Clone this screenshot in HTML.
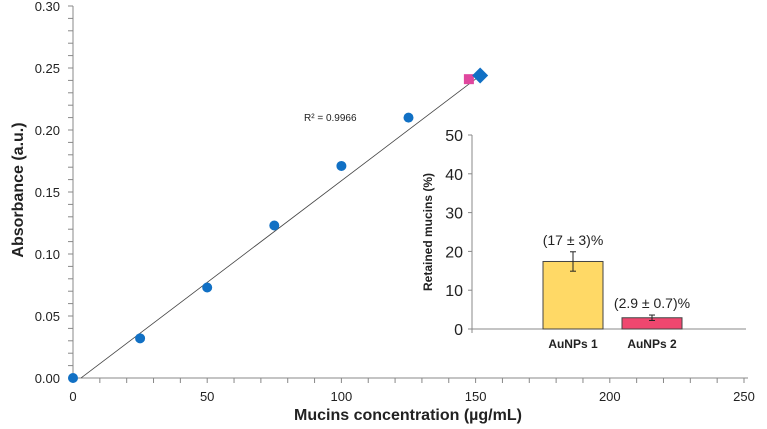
<!DOCTYPE html>
<html><head><meta charset="utf-8"><style>
html,body{margin:0;padding:0;background:#fff}
svg{display:block;font-family:"Liberation Sans",sans-serif}
</style></head><body>
<svg id="c" width="767" height="429"></svg>
<script>
const xTicks=[0,50,100,150,200,250];
const yTicks=[0.00,0.05,0.10,0.15,0.20,0.25,0.30];
const concX=[0,25,50,75,100,125];
const absY=[0.000,0.032,0.073,0.123,0.171,0.210];
const squareX=[147.5];const squareY=[0.241];
const diamondX=[151.7];const diamondY=[0.244];
const fitSlope=0.00164, fitIntercept=-0.0049, fitStart=3, fitEnd=153;
const barCats=["AuNPs 1","AuNPs 2"];
const barVals=[17.4,2.9];
const barErr=[2.5,0.7];
const barLabels=["(17 \u00b1 3)%","(2.9 \u00b1 0.7)%"];
const barColors=["#ffd966","#ef476f"];
const insetTicks=[0,10,20,30,40,50];

const NS="http://www.w3.org/2000/svg";
const svg=document.getElementById('c');
function mk(t,a,p){const e=document.createElementNS(NS,t);for(const k in a)e.setAttribute(k,a[k]);(p||svg).appendChild(e);return e;}
const X=v=>73+v*(744-73)/250;
const Y=v=>378-v*1240;
const IY=v=>329-v*(329-135)/50;

// main axes
let e=mk('line',{x1:73,y1:6,x2:73,y2:378,stroke:'#888'});

e=mk('line',{x1:73,y1:378,x2:748,y2:378,stroke:'#888'});

for(let v=0;v<=250;v+=10){mk('line',{x1:X(v),y1:378,x2:X(v),y2:383,stroke:'#888'});}
for(let i=0;i<=30;i++){mk('line',{x1:68,y1:Y(i*0.01),x2:73,y2:Y(i*0.01),stroke:'#888'});}
xTicks.forEach(v=>{const t=mk('text',{x:X(v),y:401,'text-anchor':'middle','font-size':13,fill:'#222'});t.textContent=v;
});
yTicks.forEach(v=>{const t=mk('text',{x:60,y:Y(v)+5,'text-anchor':'end','font-size':13,fill:'#222'});t.textContent=v.toFixed(2);
});
e=mk('text',{x:0,y:0,transform:'translate(23,190) rotate(-90)','text-anchor':'middle','font-size':16,'font-weight':'bold',fill:'#222'});e.textContent='Absorbance (a.u.)';

e=mk('text',{x:408,y:420,'text-anchor':'middle','font-size':16,'font-weight':'bold',fill:'#222'});e.textContent='Mucins concentration (\u00b5g/mL)';


// fit line
e=mk('line',{x1:X(fitStart),y1:Y(fitSlope*fitStart+fitIntercept),x2:X(fitEnd),y2:Y(fitSlope*fitEnd+fitIntercept),stroke:'#444','stroke-width':0.8});

e=mk('text',{x:304,y:121,'font-size':10,fill:'#222'});e.textContent='R\u00b2 = 0.9966';


concX.forEach((v,i)=>{const c=mk('circle',{cx:X(v),cy:Y(absY[i]),r:5,fill:'#1170c4'});
});
squareX.forEach((v,i)=>{const r=mk('rect',{x:X(v)-5,y:Y(squareY[i])-5,width:10,height:10,fill:'#e0479e'});
});
diamondX.forEach((v,i)=>{const cx=X(v),cy=Y(diamondY[i]);const p=mk('polygon',{points:`${cx},${cy-8} ${cx+8},${cy} ${cx},${cy+8} ${cx-8},${cy}`,fill:'#1170c4'});
});

// inset
const g=mk('g',{});
mk('line',{x1:472,y1:135,x2:472,y2:333,stroke:'#888'},g);
mk('line',{x1:472,y1:329,x2:746,y2:329,stroke:'#888'},g);
insetTicks.forEach(v=>{mk('line',{x1:468,y1:IY(v),x2:472,y2:IY(v),stroke:'#888'},g);
const t=mk('text',{x:463,y:IY(v)+6,'text-anchor':'end','font-size':16,fill:'#222'},g);t.textContent=v;
});
e=mk('text',{x:0,y:0,transform:'translate(432,232) rotate(-90)','text-anchor':'middle','font-size':12,'font-weight':'bold',fill:'#222'},g);e.textContent='Retained mucins (%)';

const bx=[543,622],bw=60;
barVals.forEach((v,i)=>{const r=mk('rect',{x:bx[i],y:IY(v),width:bw,height:IY(0)-IY(v),fill:barColors[i],stroke:'#444','stroke-width':1},g);

const cx=bx[i]+bw/2;
mk('line',{x1:cx,y1:IY(v+barErr[i]),x2:cx,y2:IY(v-barErr[i]),stroke:'#222'},g);
mk('line',{x1:cx-3,y1:IY(v+barErr[i]),x2:cx+3,y2:IY(v+barErr[i]),stroke:'#222'},g);
mk('line',{x1:cx-3,y1:IY(v-barErr[i]),x2:cx+3,y2:IY(v-barErr[i]),stroke:'#222'},g);
const t=mk('text',{x:cx,y:IY(v+barErr[i])-7,'text-anchor':'middle','font-size':14,fill:'#222'},g);t.textContent=barLabels[i];

const c=mk('text',{x:cx,y:348,'text-anchor':'middle','font-size':12,'font-weight':'bold',fill:'#222'},g);c.textContent=barCats[i];
});
</script>
</body></html>
